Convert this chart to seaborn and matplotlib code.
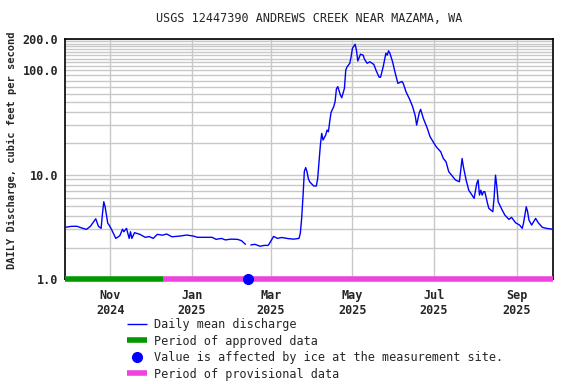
#!/usr/bin/env python
"""
Daily mean discharge hydrograph, USGS 12447390 Andrews Creek near Mazama, WA.
"""

# ---------- PREP
import numpy as np
import pandas as pd
import seaborn as sns
import matplotlib.pyplot as plt
from matplotlib.lines import Line2D

# ---------- DATA
title = "USGS 12447390 ANDREWS CREEK NEAR MAZAMA, WA"
ylabel = "DAILY Discharge, cubic feet per second"

dates = [
    "2024-09-28", "2024-10-03", "2024-10-07", "2024-10-10", "2024-10-14", "2024-10-17",
    "2024-10-21", "2024-10-23", "2024-10-25", "2024-10-26", "2024-10-27", "2024-10-28",
    "2024-10-29", "2024-10-30", "2024-10-31", "2024-11-02", "2024-11-05", "2024-11-08",
    "2024-11-10", "2024-11-11", "2024-11-13", "2024-11-15", "2024-11-16", "2024-11-17",
    "2024-11-19", "2024-11-23", "2024-11-27", "2024-11-30", "2024-12-03", "2024-12-06",
    "2024-12-10", "2024-12-13", "2024-12-17", "2024-12-23", "2024-12-28", "2025-01-02",
    "2025-01-05", "2025-01-16", "2025-01-19", "2025-01-23", "2025-01-26", "2025-01-30",
    "2025-02-04", "2025-02-07", "2025-02-10", "2025-02-12", "2025-02-14", "2025-02-17",
    "2025-02-21", "2025-02-24", "2025-02-27", "2025-03-01", "2025-03-03", "2025-03-06",
    "2025-03-09", "2025-03-14", "2025-03-18", "2025-03-22", "2025-03-23", "2025-03-24",
    "2025-03-25", "2025-03-26", "2025-03-27", "2025-03-28", "2025-03-29", "2025-03-30",
    "2025-04-02", "2025-04-04", "2025-04-05", "2025-04-06", "2025-04-07", "2025-04-08",
    "2025-04-09", "2025-04-11", "2025-04-12", "2025-04-13", "2025-04-14", "2025-04-15",
    "2025-04-17", "2025-04-18", "2025-04-19", "2025-04-20", "2025-04-22", "2025-04-23",
    "2025-04-25", "2025-04-26", "2025-04-27", "2025-04-29", "2025-04-30", "2025-05-01",
    "2025-05-03", "2025-05-04", "2025-05-05", "2025-05-07", "2025-05-09", "2025-05-10",
    "2025-05-12", "2025-05-14", "2025-05-17", "2025-05-19", "2025-05-21", "2025-05-22",
    "2025-05-24", "2025-05-26", "2025-05-27", "2025-05-28", "2025-05-29", "2025-05-31",
    "2025-06-02", "2025-06-04", "2025-06-07", "2025-06-08", "2025-06-10", "2025-06-13",
    "2025-06-15", "2025-06-17", "2025-06-18", "2025-06-20", "2025-06-21", "2025-06-23",
    "2025-06-26", "2025-06-28", "2025-07-01", "2025-07-03", "2025-07-06", "2025-07-08",
    "2025-07-10", "2025-07-12", "2025-07-15", "2025-07-17", "2025-07-20", "2025-07-21",
    "2025-07-22", "2025-07-23", "2025-07-25", "2025-07-27", "2025-07-29", "2025-07-31",
    "2025-08-02", "2025-08-03", "2025-08-04", "2025-08-05", "2025-08-06", "2025-08-07",
    "2025-08-08", "2025-08-10", "2025-08-11", "2025-08-14", "2025-08-15", "2025-08-16",
    "2025-08-17", "2025-08-18", "2025-08-21", "2025-08-23", "2025-08-26", "2025-08-28",
    "2025-08-31", "2025-09-03", "2025-09-05", "2025-09-06", "2025-09-08", "2025-09-09",
    "2025-09-10", "2025-09-12", "2025-09-15", "2025-09-17", "2025-09-20", "2025-09-23",
    "2025-09-28",
]
flow = [
    3.13, 3.2, 3.2, 3.1, 2.99, 3.2,
    3.78, 3.2, 3.06, 4.2, 5.5, 4.93,
    4.1, 3.42, 3.29, 2.95, 2.45, 2.6,
    3.0, 2.84, 3.06, 2.45, 2.84, 2.45,
    2.78, 2.68, 2.51, 2.55, 2.45, 2.68,
    2.63, 2.7, 2.54, 2.58, 2.64, 2.58,
    2.51, 2.51, 2.4, 2.45, 2.37, 2.41,
    2.4, 2.33, 2.15, np.nan, 2.12, 2.15,
    2.06, 2.1, 2.1, 2.31, 2.56, 2.45,
    2.5, 2.44, 2.41, 2.45, 2.74, 3.8,
    6.15, 10.7, 11.7, 10.7, 9.2, 8.55,
    7.8, 7.8, 9.2, 13.3, 19.2, 24.9,
    21.5, 24.0, 26.8, 25.8, 32.3, 39.6,
    44.9, 50.1, 66.3, 69.9, 58.0, 54.7,
    67.3, 101.0, 108.0, 117.0, 135.0, 163.0,
    178.0, 156.0, 123.0, 143.0, 140.0, 128.0,
    117.0, 121.0, 114.0, 97.6, 86.0, 86.0,
    108.5, 146.0, 140.0, 154.0, 146.0, 121.0,
    94.0, 75.0, 78.4, 75.0, 62.6, 52.0,
    44.9, 36.5, 29.9, 39.4, 42.3, 34.7,
    27.8, 23.2, 20.0, 18.3, 16.6, 14.3,
    13.3, 10.7, 9.6, 8.9, 8.56, 11.1,
    14.3, 11.9, 8.9, 7.1, 6.5, 5.93,
    8.28, 8.9, 6.37, 7.1, 6.37, 6.87,
    6.87, 5.32, 4.76, 4.42, 6.15, 9.9,
    7.67, 5.5, 4.58, 4.1, 3.73, 3.9,
    3.46, 3.29, 3.06, 3.46, 4.93, 4.42,
    3.68, 3.29, 3.81, 3.46, 3.13, 3.06,
    3.0,
]

approved_period = ["2024-09-28", "2024-12-10"]
provisional_period = ["2024-12-10", "2025-09-28"]
ice_dates = ["2025-02-12"]
ice_values = [1.0]

month_ticks = ["2024-11-01", "2025-01-01", "2025-03-01", "2025-05-01", "2025-07-01", "2025-09-01"]
month_labels = ["Nov\n2024", "Jan\n2025", "Mar\n2025", "May\n2025", "Jul\n2025", "Sep\n2025"]
y_ticks = [1, 10, 100, 200]
y_labels = ["1.0", "10.0", "100.0", "200.0"]
y_grid = [2, 3, 4, 5, 6, 7, 8, 9, 20, 30, 40, 50, 60, 70, 80, 90,
          110, 120, 130, 140, 150, 160, 170, 180, 190]
x_range = ["2024-09-28", "2025-09-28"]

legend_labels = ["Daily mean discharge", "Period of approved data",
                 "Value is affected by ice at the measurement site.",
                 "Period of provisional data"]

# ---------- TABLE
df = pd.DataFrame({"date": pd.to_datetime(dates), "flow": flow})
# ice-affected days break the line
df["segment"] = df["flow"].isna().cumsum()
df = df.dropna()

# ---------- PLOTTING
sns.set_theme(style="white")
plt.rcParams["font.family"] = ["DejaVu Sans Mono"]

blue = "#0000FF"
green = "#009900"
pink = "#EE44DD"
grid_c = "#C8C8C8"

fig = plt.figure(figsize=(5.76, 3.84), dpi=100)
ax = fig.add_axes([65 / 576, 1 - 279 / 384, 488 / 576, 240 / 384])

sns.lineplot(data=df, x="date", y="flow", units="segment", estimator=None,
             color=blue, linewidth=1, ax=ax, legend=False, zorder=3)

ax.set_yscale("log")
ax.set_ylim(1, 200)
ax.set_xlim(pd.to_datetime(x_range[0]), pd.to_datetime(x_range[1]))

# grid
ax.set_yticks(y_ticks)
ax.set_yticklabels(y_labels, fontsize=8.5, fontweight="bold")
ax.set_yticks(y_grid, minor=True)
ax.set_yticklabels([], minor=True)
ax.set_xticks(pd.to_datetime(month_ticks))
ax.set_xticklabels(month_labels, fontsize=8.5, fontweight="bold", linespacing=1.2)
ax.grid(True, which="both", axis="y", color=grid_c, linewidth=1)
ax.grid(True, which="major", axis="x", color=grid_c, linewidth=1)
ax.tick_params(which="both", length=0)
ax.tick_params(axis="x", pad=7)
ax.tick_params(axis="y", pad=5)
for s in ax.spines.values():
    s.set_color("black")
    s.set_linewidth(1.2)
ax.set_xlabel("")
ax.set_ylabel("")

# data approval periods and ice flag along the bottom
ax.plot(pd.to_datetime(approved_period), [1, 1], color=green, linewidth=4,
        solid_capstyle="butt", clip_on=False, zorder=4)
ax.plot(pd.to_datetime(provisional_period), [1, 1], color=pink, linewidth=4,
        solid_capstyle="butt", clip_on=False, zorder=4)
ax.plot(pd.to_datetime(ice_dates), ice_values, "o", color=blue, markersize=7,
        clip_on=False, zorder=5)

# Labels and text
fig.text(309 / 576, 1 - 19 / 384, title, ha="center", va="center", fontsize=8.5)
fig.text(12 / 576, 1 - 150 / 384, ylabel, ha="center", va="center", rotation=90,
         fontsize=7.5, fontweight="bold")

handles = [
    Line2D([], [], color=blue, linewidth=1, solid_capstyle="butt"),
    Line2D([], [], color=green, linewidth=4, solid_capstyle="butt"),
    Line2D([], [], color=blue, marker="o", linestyle="none", markersize=7),
    Line2D([], [], color=pink, linewidth=4, solid_capstyle="butt"),
]
fig.legend(handles, legend_labels, loc="upper left",
           bbox_to_anchor=(127 / 576, 1 - 318 / 384), frameon=False,
           fontsize=8.5, borderpad=0, borderaxespad=0, handlelength=1.7,
           handletextpad=0.6, labelspacing=0.3)

fig.savefig("out.png", dpi=100)
